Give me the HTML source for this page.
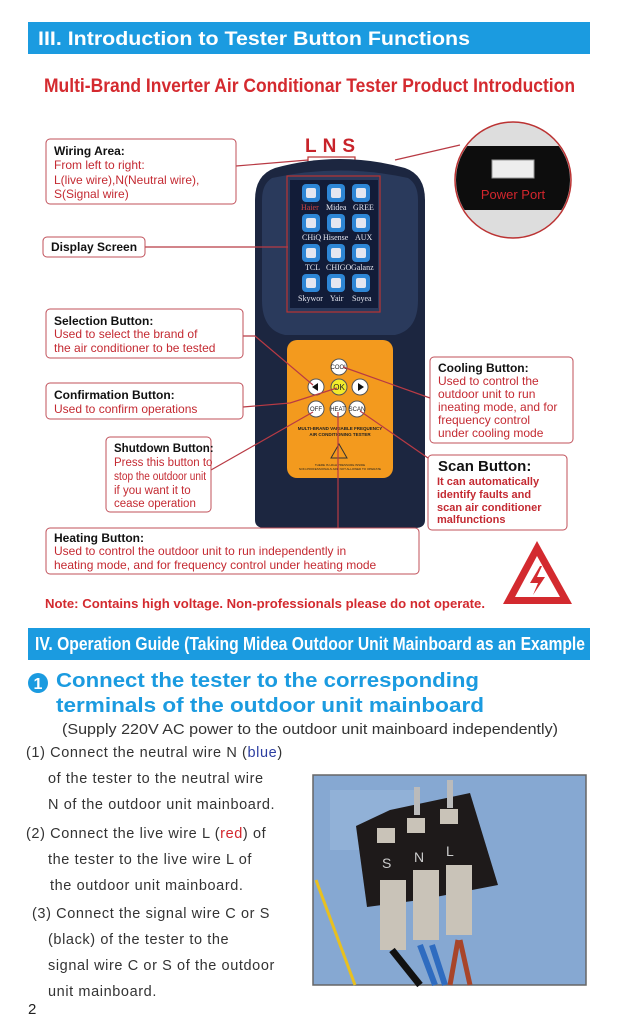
<!DOCTYPE html>
<html><head><meta charset="utf-8"><style>
html,body{margin:0;padding:0;background:#fff}
svg{display:block}
text{font-family:"Liberation Sans",sans-serif}
text.serif{font-family:"Liberation Serif",serif}
</style></head><body>
<svg width="617" height="1024" viewBox="0 0 617 1024" xmlns="http://www.w3.org/2000/svg">
<rect x="28" y="22" width="562" height="32" fill="#1b9be0"/>
<text x="38" y="45" font-size="19" font-weight="bold" fill="#fff" textLength="432" lengthAdjust="spacingAndGlyphs">III. Introduction to Tester Button Functions</text>
<text x="44" y="92" font-size="19" font-weight="bold" fill="#d42a2f" textLength="531" lengthAdjust="spacingAndGlyphs">Multi-Brand Inverter Air Conditionar Tester Product Introduction</text>

<text x="305" y="152" font-size="19" font-weight="bold" fill="#c8232a" letter-spacing="6">LNS</text>
<rect x="308" y="157" width="47" height="10" fill="none" stroke="#b33" stroke-width="1.2"/>
<path d="M275 168 Q340 150 405 168 Q425 175 425 200 L425 520 Q425 528 415 528 L265 528 Q255 528 255 520 L255 200 Q255 175 275 168 Z" fill="#1c2640"/>
<path d="M272 178 Q340 163 408 178 Q418 184 418 200 L418 300 Q418 330 395 335 L285 335 Q262 330 262 300 L262 200 Q262 184 272 178Z" fill="#2a3a5c"/>
<rect x="290" y="180" width="88" height="128" fill="#121c38"/>
<rect x="287" y="176" width="93" height="136" fill="none" stroke="#b33" stroke-width="1.2"/>
<g fill="#2d86d6">
<rect x="302" y="184" width="18" height="18" rx="4"/><rect x="327" y="184" width="18" height="18" rx="4"/><rect x="352" y="184" width="18" height="18" rx="4"/>
<rect x="302" y="214" width="18" height="18" rx="4"/><rect x="327" y="214" width="18" height="18" rx="4"/><rect x="352" y="214" width="18" height="18" rx="4"/>
<rect x="302" y="244" width="18" height="18" rx="4"/><rect x="327" y="244" width="18" height="18" rx="4"/><rect x="352" y="244" width="18" height="18" rx="4"/>
<rect x="302" y="274" width="18" height="18" rx="4"/><rect x="327" y="274" width="18" height="18" rx="4"/><rect x="352" y="274" width="18" height="18" rx="4"/>
</g>
<g fill="#e4e6f0" font-size="8">
<rect x="306" y="188" width="10" height="10" rx="2"/><rect x="331" y="188" width="10" height="10" rx="2"/><rect x="356" y="188" width="10" height="10" rx="2"/>
<rect x="306" y="218" width="10" height="10" rx="2"/><rect x="331" y="218" width="10" height="10" rx="2"/><rect x="356" y="218" width="10" height="10" rx="2"/>
<rect x="306" y="248" width="10" height="10" rx="2"/><rect x="331" y="248" width="10" height="10" rx="2"/><rect x="356" y="248" width="10" height="10" rx="2"/>
<rect x="306" y="278" width="10" height="10" rx="2"/><rect x="331" y="278" width="10" height="10" rx="2"/><rect x="356" y="278" width="10" height="10" rx="2"/>
<text class="serif" x="301" y="210" fill="#c44">Haier</text><text class="serif" x="326" y="210">Midea</text><text class="serif" x="353" y="210">GREE</text>
<text class="serif" x="302" y="240">CHiQ</text><text class="serif" x="323" y="240">Hisense</text><text class="serif" x="355" y="240">AUX</text>
<text class="serif" x="305" y="270">TCL</text><text class="serif" x="326" y="270">CHIGO</text><text class="serif" x="351" y="270">Galanz</text>
<text class="serif" x="298" y="301">Skywor</text><text class="serif" x="330" y="301">Yair</text><text class="serif" x="352" y="301">Soyea</text>
</g>
<rect x="287" y="340" width="106" height="138" rx="10" fill="#f39a1e"/>
<g font-size="6" text-anchor="middle" fill="#222">
<circle cx="339" cy="367" r="8" fill="#fff" stroke="#555"/><text x="339" y="369">COOL</text>
<circle cx="316" cy="387" r="8" fill="#fff" stroke="#555"/><path d="M318 383 L312 387 L318 391Z" fill="#111"/>
<circle cx="339" cy="387" r="8" fill="#f2ec2c" stroke="#555"/><text x="339" y="390" font-size="8">OK</text>
<circle cx="360" cy="387" r="8" fill="#fff" stroke="#555"/><path d="M358 383 L364 387 L358 391Z" fill="#111"/>
<circle cx="316" cy="409" r="8" fill="#fff" stroke="#555"/><text x="316" y="411">OFF</text>
<circle cx="338" cy="409" r="8" fill="#fff" stroke="#555"/><text x="338" y="411">HEAT</text>
<circle cx="357" cy="409" r="8" fill="#fff" stroke="#555"/><text x="357" y="411">SCAN</text>
<text x="340" y="430" font-size="4.5" font-weight="bold">MULTI-BRAND VARIABLE FREQUENCY</text>
<text x="340" y="436" font-size="4.5" font-weight="bold">AIR CONDITIONING TESTER</text>
<path d="M339 444 L331 458 L347 458Z" fill="none" stroke="#333"/>
<text x="340" y="466" font-size="3">THERE IS HIGH PRESSURE INSIDE</text>
<text x="340" y="470" font-size="3">NON-PROFESSIONALS ARE NOT ALLOWED TO OPERATE</text>
</g>

<g stroke="#b83a44" stroke-width="1.2" fill="none">
<path d="M236 166 L308 160"/>
<path d="M145 247 L288 247"/>
<path d="M243 336 L255 336 L313 385"/>
<path d="M243 407 L290 403 L337 388"/>
<path d="M211 470 L313 412"/>
<path d="M430 398 L343 367"/>
<path d="M428 458 L360 411"/>
<path d="M338 412 L338 528"/>
<path d="M395 160 L460 145"/>
</g>

<g fill="#fff" stroke="#c0505a" stroke-width="1">
<rect x="46" y="139" width="190" height="65" rx="4"/>
<rect x="43" y="237" width="102" height="20" rx="4"/>
<rect x="46" y="309" width="197" height="49" rx="4"/>
<rect x="46" y="383" width="197" height="36" rx="4"/>
<rect x="106" y="437" width="105" height="75" rx="4"/>
<rect x="430" y="357" width="143" height="86" rx="4"/>
<rect x="428" y="455" width="139" height="75" rx="4"/>
<rect x="46" y="528" width="373" height="46" rx="4"/>
</g>
<g font-size="12">
<text x="54" y="155" font-weight="bold" fill="#111">Wiring Area:</text>
<g fill="#c42a32"><text x="54" y="169">From left to right:</text><text x="54" y="184">L(live wire),N(Neutral wire),</text><text x="54" y="198">S(Signal wire)</text></g>
<text x="51" y="251" font-weight="bold" fill="#111">Display Screen</text>
<text x="54" y="325" font-weight="bold" fill="#111">Selection Button:</text>
<g fill="#c42a32"><text x="54" y="338">Used to select the brand of</text><text x="54" y="352">the air conditioner to be tested</text></g>
<text x="54" y="399" font-weight="bold" fill="#111">Confirmation Button:</text>
<text x="54" y="413" fill="#c42a32">Used to confirm operations</text>
<text x="114" y="452" font-weight="bold" fill="#111" font-size="11.5">Shutdown Button:</text>
<g fill="#c42a32" font-size="11.5"><text x="114" y="466">Press this button to</text><text x="114" y="480" textLength="92" lengthAdjust="spacingAndGlyphs">stop the outdoor unit</text><text x="114" y="494">if you want it to</text><text x="114" y="507">cease operation</text></g>
<text x="438" y="372" font-weight="bold" fill="#111">Cooling Button:</text>
<g fill="#c42a32"><text x="438" y="385">Used to control the</text><text x="438" y="398">outdoor unit to run</text><text x="438" y="411">ineating mode, and for</text><text x="438" y="424">frequency control</text><text x="438" y="437">under cooling mode</text></g>
<text x="438" y="471" font-size="15" font-weight="bold" fill="#111">Scan Button:</text>
<g fill="#c42a32" font-size="11" font-weight="bold"><text x="437" y="485">It can automatically</text><text x="437" y="498">identify faults and</text><text x="437" y="511">scan air conditioner</text><text x="437" y="523">malfunctions</text></g>
<text x="54" y="542" font-weight="bold" fill="#111">Heating Button:</text>
<g fill="#c42a32"><text x="54" y="555">Used to control the outdoor unit to run independently in</text><text x="54" y="569">heating mode, and for frequency control under heating mode</text></g>
</g>

<circle cx="513" cy="180" r="58" fill="#ddd" stroke="#b33" stroke-width="1.5"/>
<clipPath id="pc"><circle cx="513" cy="180" r="57"/></clipPath>
<rect x="455" y="146" width="116" height="64" fill="#0d0d0d" clip-path="url(#pc)"/>
<rect x="492" y="160" width="42" height="18" fill="#eee" stroke="#999"/>
<text x="513" y="199" font-size="13" fill="#d3262d" text-anchor="middle">Power Port</text>

<path d="M537 541 L503 604 L572 604Z" fill="#d32a2f"/>
<path d="M537 556 L515 597 L560 597Z" fill="#fff"/>
<path d="M540 566 L530 583 L538 583 L533 595 L545 577 L537 577 L542 566Z" fill="#d32a2f"/>
<text x="45" y="608" font-size="13" font-weight="bold" fill="#d32a2f" textLength="440" lengthAdjust="spacingAndGlyphs">Note: Contains high voltage. Non-professionals please do not operate.</text>

<rect x="28" y="628" width="562" height="32" fill="#1b9be0"/>
<text x="35" y="650" font-size="18" font-weight="bold" fill="#fff" textLength="550" lengthAdjust="spacingAndGlyphs">IV. Operation Guide (Taking Midea Outdoor Unit Mainboard as an Example</text>

<circle cx="38" cy="683" r="10" fill="#1b9be0"/>
<text x="38" y="689" font-size="16" font-weight="bold" fill="#fff" text-anchor="middle">1</text>
<text x="56" y="687" font-size="20" font-weight="bold" fill="#1b9be0" textLength="423" lengthAdjust="spacingAndGlyphs">Connect the tester to the corresponding</text>
<text x="56" y="712" font-size="20" font-weight="bold" fill="#1b9be0" textLength="428" lengthAdjust="spacingAndGlyphs">terminals of the outdoor unit mainboard</text>
<text x="62" y="734" font-size="15" fill="#333" textLength="496" lengthAdjust="spacingAndGlyphs">(Supply 220V AC power to the outdoor unit mainboard independently)</text>

<g font-size="14.5" fill="#333" letter-spacing="0.6">
<text x="26" y="757">(1) Connect the neutral wire N (<tspan fill="#2b3da0">blue</tspan>)</text>
<text x="48" y="783">of the tester to the neutral wire</text>
<text x="48" y="809">N of the outdoor unit mainboard.</text>
<text x="26" y="838">(2) Connect the live wire L (<tspan fill="#d3262d">red</tspan>) of</text>
<text x="48" y="864">the tester to the live wire L of</text>
<text x="50" y="890">the outdoor unit mainboard.</text>
<text x="32" y="918">(3) Connect the signal wire C or S</text>
<text x="48" y="944">(black) of the tester to the</text>
<text x="48" y="970">signal wire C or S of the outdoor</text>
<text x="48" y="996">unit mainboard.</text>
</g>

<rect x="313" y="775" width="273" height="210" fill="#86a8d2" stroke="#666" stroke-width="1.5"/>
<rect x="330" y="790" width="90" height="60" fill="#9ab7da" opacity="0.6"/>
<path d="M316 880 L355 985" stroke="#e8c020" stroke-width="3"/>
<path d="M356 826 L390 810 L470 793 L498 885 L420 900 L367 907Z" fill="#1e1a1a"/>
<g fill="#c9c3b8"><rect x="377" y="828" width="18" height="15"/><rect x="407" y="818" width="18" height="15"/><rect x="440" y="809" width="18" height="15"/>
<rect x="380" y="880" width="26" height="70"/><rect x="413" y="870" width="26" height="70"/><rect x="446" y="865" width="26" height="70"/></g>
<path d="M417 787 L417 815 M450 780 L450 808" stroke="#bbb" stroke-width="6"/>
<text x="382" y="868" font-size="14" fill="#ccc">S</text><text x="414" y="862" font-size="14" fill="#ccc">N</text><text x="446" y="856" font-size="14" fill="#ccc">L</text>
<path d="M420 945 L435 985 M432 945 L445 985" stroke="#2f6cc0" stroke-width="6"/>
<path d="M460 940 L470 985 M458 940 L450 985" stroke="#a8452a" stroke-width="5"/>
<path d="M392 950 L420 985" stroke="#111" stroke-width="7"/>

<text x="28" y="1014" font-size="15" fill="#222">2</text>
</svg>
</body></html>
